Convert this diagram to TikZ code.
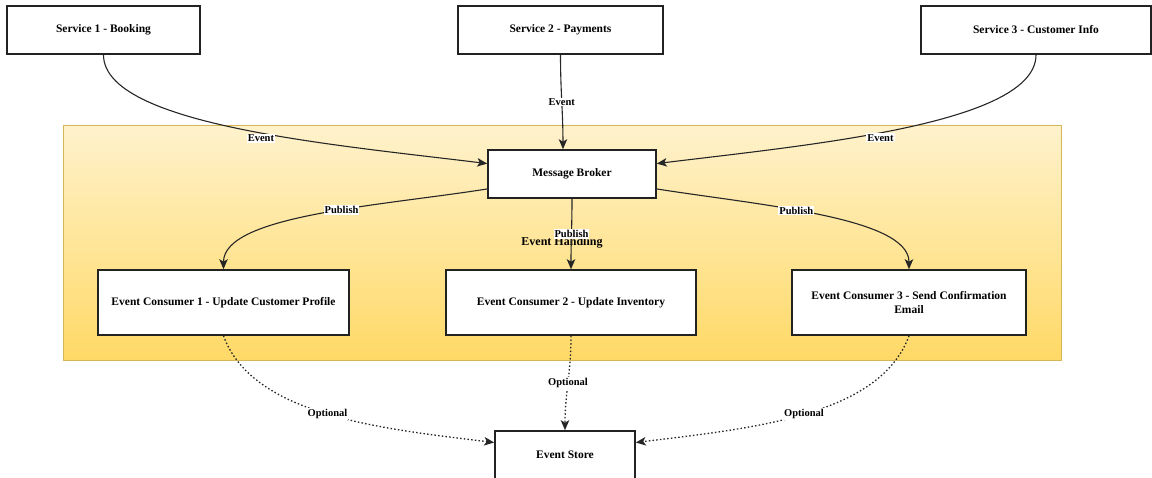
\documentclass[tikz,border=0pt]{standalone}
\usepackage{fontspec}
\setmainfont{Liberation Serif}
\usetikzlibrary{arrows.meta}

\definecolor{handlingtop}{HTML}{FFF2CC}
\definecolor{handlingbottom}{HTML}{FFD966}
\definecolor{handlingline}{HTML}{D6B656}
\definecolor{boxline}{HTML}{222222}

\tikzstyle{box} = [draw=boxline,line width=1.6pt,fill=white,inner sep=2pt,align=center,font=\fontsize{11.5}{14}\selectfont\bfseries]
\tikzstyle{container} = [draw=handlingline,line width=1pt,top color=handlingtop,bottom color=handlingbottom,font=\fontsize{12}{14}\selectfont\bfseries]
\tikzstyle{edgelabel} = [fill=white,inner sep=1pt,font=\fontsize{10.5}{12}\selectfont\bfseries]
\tikzstyle{arrowdecorate} = [-{Stealth[length=10pt,width=8.5pt,inset=2.5pt]},line width=1.1pt,draw=black!85]
\tikzstyle{optionaledge} = [arrowdecorate,line width=1.3pt,dash pattern=on 1.5pt off 2.2pt]

\begin{document}
\begin{tikzpicture}[x=1pt,y=1pt]
    \useasboundingbox (0,0) rectangle (1152,-478);

    % event handling area
    \node[container, minimum width=998pt, minimum height=235pt] (handling) at (562,-243) {Event Handling};

    \foreach \nodename/\x/\y/\w/\h/\txt in {
        svc1/103.5/-30/193/48/{Service 1 - Booking},
        svc2/560.5/-30/205/48/{Service 2 - Payments},
        svc3/1036/-30/230/48/{Service 3 - Customer Info},
        broker/572/-174/168/48/{Message Broker},
        cons1/223.5/-302.5/251/65/{Event Consumer 1 - Update Customer Profile},
        cons2/571/-302.5/250/65/{Event Consumer 2 - Update Inventory},
        cons3/909/-302.5/234/65/{Event Consumer 3 - Send Confirmation\\Email},
        store/565/-455/140/48/{Event Store}}
    {
        \node[box, minimum width=\w pt, minimum height=\h pt] (\nodename) at (\x,\y) {\txt};
    }

    %edges
    \path
    \foreach \startnode/\endnode/\out/\in/\lo/\li/\p/\direction/\txt in {
        svc1.south/broker.173/-90/173/0.45/1/0.55/below/Event,
        svc2.south/broker.110/-90/90/1/1/0.5/midway/Event,
        svc3.south/broker.7/-90/7/0.45/1/0.55/below/Event,
        broker.190/cons1.north/189/90/1/0.5/0.42/midway/Publish,
        broker.south/cons2.north/-90/90/1/1/0.5/midway/Publish,
        broker.-10/cons3.north/-9/90/1/0.5/0.42/midway/Publish}
    {
        (\startnode) edge[arrowdecorate,out=\out,in=\in,out looseness=\lo,in looseness=\li] node[edgelabel,\direction,pos=\p] {\txt} (\endnode)
    };

    \path
    \foreach \startnode/\endnode/\out/\in/\lo in {
        cons1.south/store.170/-70/173/0.75,
        cons2.south/store.north/-90/90/1,
        cons3.south/store.10/-110/7/0.75}
    {
        (\startnode) edge[optionaledge,out=\out,in=\in,out looseness=\lo] node[edgelabel,pos=0.5] {Optional} (\endnode)
    };

\end{tikzpicture}
\end{document}
